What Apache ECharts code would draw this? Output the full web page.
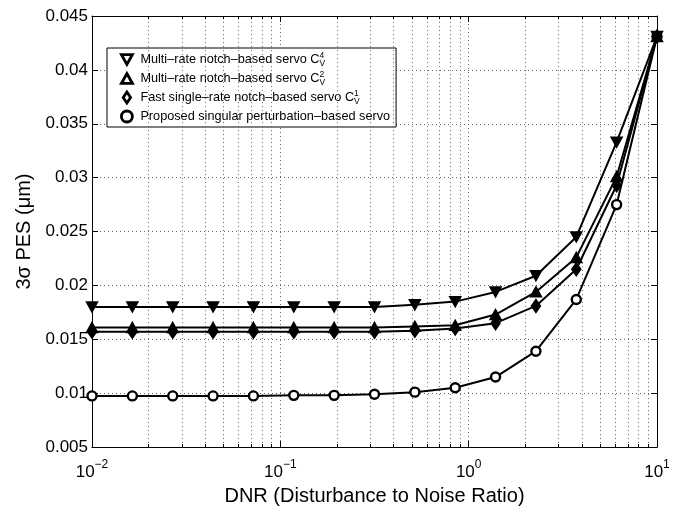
<!DOCTYPE html>
<html>
<head>
<meta charset="utf-8">
<style>
  html, body { margin: 0; padding: 0; background: #fff; }
  #chart { width: 688px; height: 511px; }
</style>
<script src="https://cdn.jsdelivr.net/npm/echarts@6/dist/echarts.min.js"></script>
</head>
<body>
<div id="chart"></div>
<script>
// ---- data ----
const dnr = [0.01, 0.01638, 0.02683, 0.04394, 0.07197, 0.1179, 0.1931, 0.3162, 0.5179, 0.8483, 1.389, 2.276, 3.728, 6.105, 10];
const servoC4 = [0.0180, 0.0180, 0.0180, 0.0180, 0.0180, 0.0180, 0.0180, 0.0180, 0.0182, 0.0185, 0.0194, 0.0209, 0.0245, 0.0333, 0.0431];
const servoC2 = [0.0161, 0.0161, 0.0161, 0.0161, 0.0161, 0.0161, 0.0161, 0.0161, 0.0162, 0.0163, 0.0173, 0.0194, 0.0226, 0.0301, 0.0431];
const servoC1 = [0.0157, 0.0157, 0.0157, 0.0157, 0.0157, 0.0157, 0.0157, 0.0157, 0.0158, 0.0160, 0.0165, 0.0181, 0.0215, 0.0293, 0.0431];
const proposed = [0.00975, 0.00975, 0.00975, 0.00975, 0.00975, 0.0098, 0.0098, 0.0099, 0.0101, 0.0105, 0.0115, 0.0139, 0.0187, 0.0275, 0.0431];
const yTicks = [0.005, 0.01, 0.015, 0.02, 0.025, 0.03, 0.035, 0.04, 0.045];
const xMinorGrid = [0.02,0.03,0.04,0.05,0.06,0.07,0.08,0.09, 0.2,0.3,0.4,0.5,0.6,0.7,0.8,0.9, 2,3,4,5,6,7,8,9];
const xMajorTicks = [0.01, 0.1, 1, 10];

const FONT = "'Liberation Sans', Arial, Helvetica, sans-serif";
const Y_MIN = yTicks[0], Y_MAX = yTicks[yTicks.length - 1];

const chart = echarts.init(document.getElementById('chart'), null, { renderer: 'canvas' });

const dotted = { color: '#666', width: 1, type: [1, 3] };

function pairs(ys) { return dnr.map((x, i) => [x, ys[i]]); }

const gridLines = xMinorGrid.map(v => ({ xAxis: v }));
const minorTickLen = 0.00028;
const minorTicks = [];
xMinorGrid.forEach(v => {
  minorTicks.push([{ coord: [v, Y_MIN] }, { coord: [v, Y_MIN + minorTickLen] }]);
  minorTicks.push([{ coord: [v, Y_MAX] }, { coord: [v, Y_MAX - minorTickLen] }]);
});

const richLegend = {
  t: { fontFamily: FONT, fontSize: 12.7, color: '#000', padding: [0, 0, 0, 3], lineHeight: 17 },
  sup: { fontFamily: FONT, fontSize: 8.5, color: '#000', verticalAlign: 'top', width: 0, lineHeight: 9 },
  sub: { fontFamily: FONT, fontSize: 8.5, color: '#000', verticalAlign: 'bottom', lineHeight: 9 }
};

const names = {
  c4: 'Multi–rate notch–based servo C4',
  c2: 'Multi–rate notch–based servo C2',
  c1: 'Fast single–rate notch–based servo C1',
  ps: 'Proposed singular perturbation–based servo'
};

function legendLabel(name) {
  if (name === names.c4) return '{t|Multi–rate notch–based servo C}{sup|4}{sub|V}';
  if (name === names.c2) return '{t|Multi–rate notch–based servo C}{sup|2}{sub|V}';
  if (name === names.c1) return '{t|Fast single–rate notch–based servo C}{sup|1}{sub|V}';
  return '{t|' + name + '}';
}

const lineCommon = {
  type: 'line',
  xAxisIndex: 0,
  yAxisIndex: 0,
  lineStyle: { color: '#000', width: 2 },
  showSymbol: true,
  z: 5,
  animation: false
};

const legendIconStyle = { color: '#fff', borderColor: '#000', borderWidth: 2.8 };

const option = {
  backgroundColor: '#fff',
  animation: false,
  grid: { left: 92, right: 31, top: 16, bottom: 53, containLabel: false },
  legend: {
    orient: 'vertical',
    left: 107,
    top: 48,
    padding: [3, 6, 2, 13],
    itemGap: 2,
    itemWidth: 11,
    itemHeight: 11,
    backgroundColor: '#fff',
    borderColor: '#000',
    borderWidth: 1,
    borderRadius: 0,
    selectedMode: false,
    formatter: legendLabel,
    textStyle: { rich: richLegend, lineHeight: 17 },
    data: [
      { name: names.c4, icon: 'path://M0,0 L10,0 L5,9 Z', itemStyle: legendIconStyle },
      { name: names.c2, icon: 'path://M5,0 L10,9 L0,9 Z', itemStyle: legendIconStyle },
      { name: names.c1, icon: 'path://M5,0 L9,6 L5,12 L1,6 Z', itemStyle: legendIconStyle },
      { name: names.ps, icon: 'circle', itemStyle: legendIconStyle }
    ]
  },
  xAxis: [
    {
      type: 'log', logBase: 10, min: xMajorTicks[0], max: xMajorTicks[xMajorTicks.length - 1], position: 'bottom',
      name: 'DNR (Disturbance to Noise Ratio)', nameLocation: 'middle', nameGap: 28,
      nameTextStyle: { fontFamily: FONT, fontSize: 20, color: '#000' },
      axisLine: { show: true, onZero: false, lineStyle: { color: '#000', width: 1 } },
      axisTick: { show: true, inside: true, length: 6, lineStyle: { color: '#000' } },
      minorTick: { show: false },
      axisLabel: {
        margin: 12,
        formatter: function (v) {
          const e = Math.round(Math.log10(v));
          return '{b|10}{s|' + (e < 0 ? '−' + (-e) : e) + '}';
        },
        rich: {
          b: { fontFamily: FONT, fontSize: 17, color: '#000', lineHeight: 22, verticalAlign: 'bottom' },
          s: { fontFamily: FONT, fontSize: 12, color: '#000', lineHeight: 14, verticalAlign: 'top' }
        }
      },
      splitLine: { show: true, lineStyle: dotted }
    },
    {
      type: 'log', logBase: 10, min: xMajorTicks[0], max: xMajorTicks[xMajorTicks.length - 1], position: 'top',
      axisLine: { show: true, onZero: false, lineStyle: { color: '#000', width: 1 } },
      axisTick: { show: true, inside: true, length: 6, lineStyle: { color: '#000' } },
      axisLabel: { show: false },
      splitLine: { show: false }
    }
  ],
  yAxis: [
    {
      type: 'value', min: Y_MIN, max: Y_MAX, interval: 0.005, position: 'left',
      name: '3σ PES (μm)', nameLocation: 'middle', nameGap: 52,
      nameTextStyle: { fontFamily: FONT, fontSize: 20, color: '#000' },
      axisLine: { show: true, onZero: false, lineStyle: { color: '#000', width: 1 } },
      axisTick: { show: true, inside: true, length: 6, lineStyle: { color: '#000' } },
      axisLabel: {
        margin: 4, fontFamily: FONT, fontSize: 17, color: '#000',
        formatter: function (v) { return String(+v.toFixed(3)); }
      },
      splitLine: { show: true, lineStyle: dotted }
    },
    {
      type: 'value', min: Y_MIN, max: Y_MAX, interval: 0.005, position: 'right',
      axisLine: { show: true, onZero: false, lineStyle: { color: '#000', width: 1 } },
      axisTick: { show: true, inside: true, length: 6, lineStyle: { color: '#000' } },
      axisLabel: { show: false },
      splitLine: { show: false }
    }
  ],
  series: [
    {
      type: 'line', name: '_grid', data: [], xAxisIndex: 0, yAxisIndex: 0, z: 1, silent: true,
      markLine: {
        silent: true, symbol: ['none', 'none'], animation: false,
        label: { show: false },
        lineStyle: dotted,
        emphasis: { disabled: true },
        data: gridLines
      }
    },
    {
      type: 'line', name: '_ticks', data: [], xAxisIndex: 0, yAxisIndex: 0, z: 2, silent: true,
      markLine: {
        silent: true, symbol: ['none', 'none'], animation: false,
        label: { show: false },
        lineStyle: { color: '#000', width: 1, type: 'solid' },
        emphasis: { disabled: true },
        data: minorTicks
      }
    },
    Object.assign({}, lineCommon, {
      name: names.ps, data: pairs(proposed), symbol: 'circle', symbolSize: 9,
      itemStyle: { color: '#fff', borderColor: '#000', borderWidth: 2.4 }
    }),
    Object.assign({}, lineCommon, {
      name: names.c1, data: pairs(servoC1), symbol: 'diamond', symbolSize: [9, 13],
      itemStyle: { color: '#000', borderColor: '#000', borderWidth: 1.5 }
    }),
    Object.assign({}, lineCommon, {
      name: names.c2, data: pairs(servoC2), symbol: 'triangle', symbolSize: [11, 10],
      itemStyle: { color: '#000', borderColor: '#000', borderWidth: 1.5 }
    }),
    Object.assign({}, lineCommon, {
      name: names.c4, data: pairs(servoC4), symbol: 'triangle', symbolRotate: 180, symbolSize: [11, 10],
      itemStyle: { color: '#000', borderColor: '#000', borderWidth: 1.5 }
    })
  ]
};

chart.setOption(option);
</script>
</body>
</html>
